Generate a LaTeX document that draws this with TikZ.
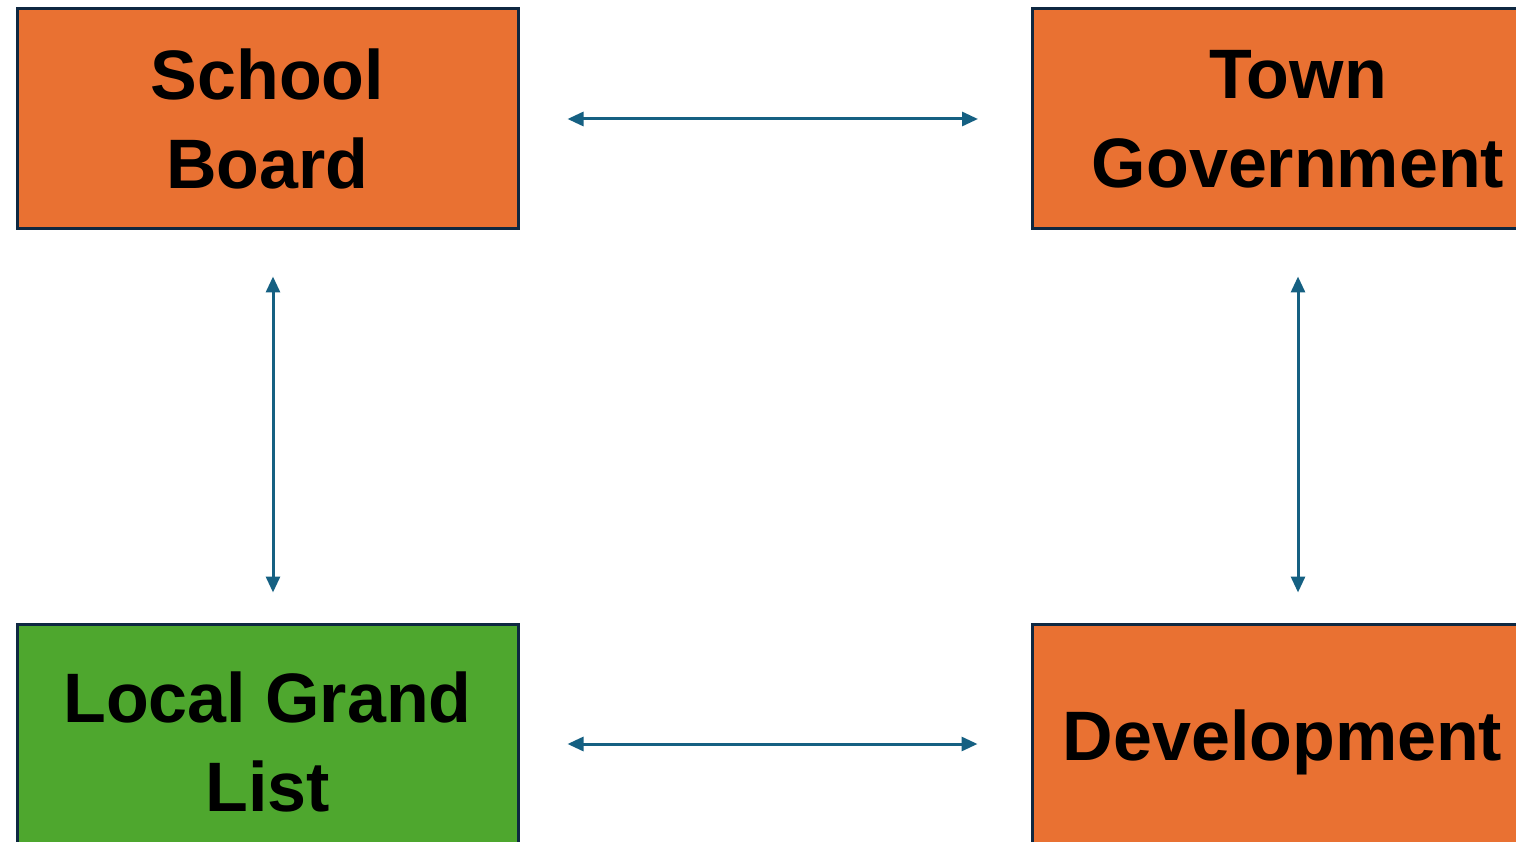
\documentclass[tikz,border=0pt]{standalone}
\usepackage{fontspec}
\setmainfont{Liberation Sans}
\usetikzlibrary{arrows.meta}
\definecolor{boxorange}{HTML}{E97132}
\definecolor{boxgreen}{HTML}{4EA72E}
\definecolor{boxline}{HTML}{0E2841}
\definecolor{linkblue}{HTML}{156082}
\tikzset{
  entity/.style={draw=boxline, line width=3pt, minimum width=501pt, minimum height=220pt,
    align=center, inner sep=0pt, font=\fontsize{70}{89}\selectfont\bfseries},
  link/.style={draw=linkblue, line width=3pt,
    {Triangle[length=16pt,width=14pt]}-{Triangle[length=16pt,width=14pt]}},
}
\begin{document}
\begin{tikzpicture}[x=1pt,y=-1pt]
  \useasboundingbox (0,0) rectangle (1516,842);

  % the four bodies
  \node[entity, fill=boxorange] (sb) at (267.5,119) {School\\Board};
  \node[entity, fill=boxorange, minimum width=531pt] (tg) at (1298,119) {Town\\Government};
  \node[entity, fill=boxgreen, minimum height=236pt] (lgl) at (267.5,742) {Local Grand\\List};
  \node[entity, fill=boxorange, minimum height=236pt] (dev) at (1282.5,742) {Development};

  % links
  \draw[link, shorten <=48pt, shorten >=53pt] (sb.east) -- (tg.west);
  \draw[link, shorten <=48pt, shorten >=53pt] ([yshift=-2pt]lgl.east) -- ([yshift=-2pt]dev.west);
  \draw[link, shorten <=46pt, shorten >=30pt] ([xshift=5.5pt]sb.south) -- ([xshift=5.5pt]lgl.north);
  \draw[link, shorten <=46pt, shorten >=30pt] (tg.south) -- ([xshift=15.5pt]dev.north);
\end{tikzpicture}
\end{document}
